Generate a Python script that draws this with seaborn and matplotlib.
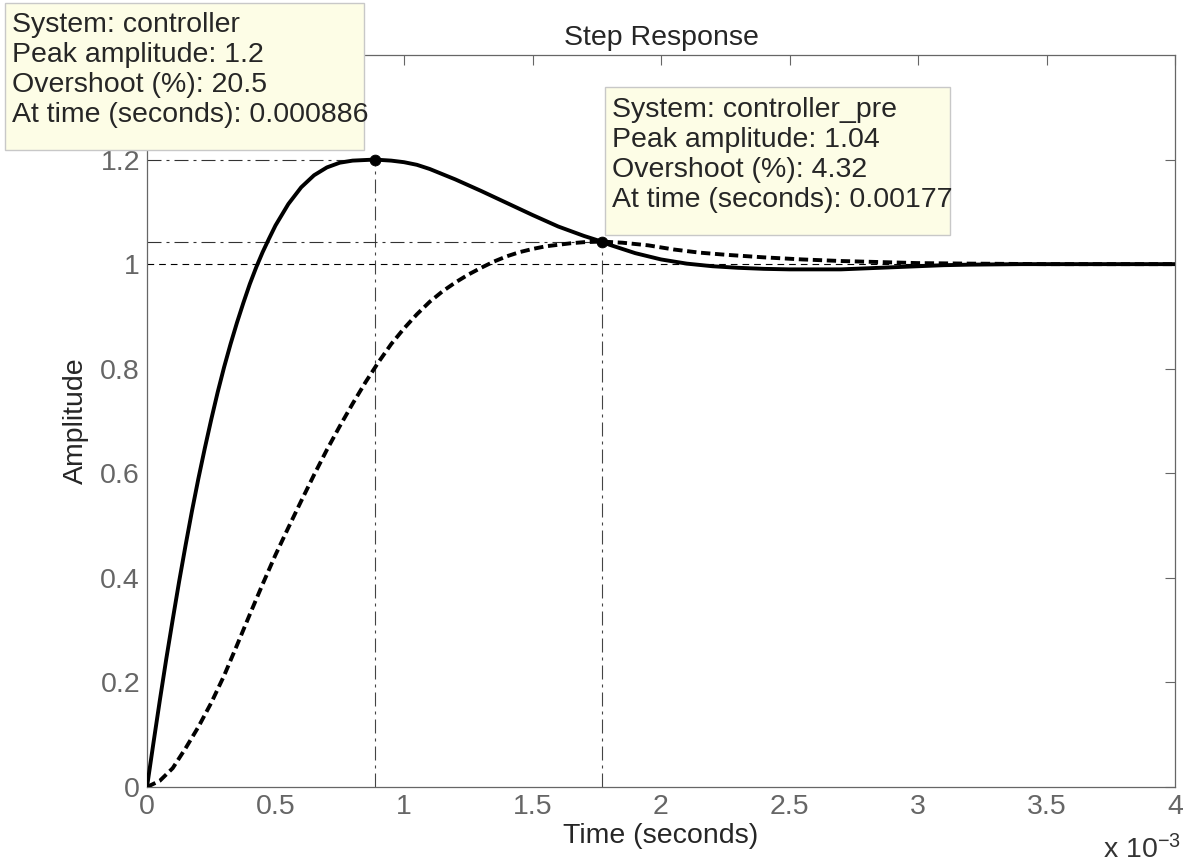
import numpy as np
import matplotlib
matplotlib.use("Agg")
import matplotlib.pyplot as plt
from matplotlib.patches import Rectangle
from matplotlib.ticker import FuncFormatter, MultipleLocator
import seaborn as sns

# --- data (time in ms, amplitude) ---
t_ctrl_ms = [0.000, 0.025, 0.050, 0.075, 0.100, 0.125, 0.150, 0.175, 0.200, 0.225,
             0.250, 0.275, 0.300, 0.325, 0.350, 0.375, 0.400, 0.425, 0.450, 0.475,
             0.500, 0.550, 0.600, 0.650, 0.700, 0.750, 0.800, 0.886, 0.950, 1.000,
             1.050, 1.100, 1.200, 1.300, 1.400, 1.500, 1.600, 1.700, 1.770, 1.800,
             1.900, 2.000, 2.100, 2.200, 2.300, 2.400, 2.500, 2.600, 2.700, 2.800,
             2.900, 3.000, 3.100, 3.200, 3.400, 4.000]
y_ctrl = [0.000, 0.084, 0.166, 0.245, 0.320, 0.393, 0.462, 0.528, 0.590, 0.648,
          0.703, 0.755, 0.803, 0.847, 0.888, 0.926, 0.962, 0.994, 1.023, 1.049,
          1.074, 1.115, 1.147, 1.170, 1.185, 1.194, 1.198, 1.200, 1.198, 1.195,
          1.190, 1.182, 1.162, 1.140, 1.117, 1.094, 1.072, 1.054, 1.043, 1.037,
          1.021, 1.009, 1.001, 0.996, 0.993, 0.991, 0.990, 0.990, 0.990, 0.992,
          0.994, 0.996, 0.998, 0.999, 1.000, 1.000]

t_pre_ms = [0.000, 0.050, 0.100, 0.150, 0.200, 0.250, 0.300, 0.350, 0.400, 0.450,
            0.500, 0.550, 0.600, 0.650, 0.700, 0.750, 0.800, 0.850, 0.900, 0.950,
            1.000, 1.050, 1.100, 1.150, 1.200, 1.250, 1.300, 1.350, 1.400, 1.450,
            1.500, 1.550, 1.600, 1.650, 1.700, 1.770, 1.850, 1.950, 2.050, 2.150,
            2.250, 2.400, 2.550, 2.700, 2.850, 3.000, 3.200, 3.500, 4.000]
y_pre = [0.000, 0.012, 0.036, 0.074, 0.115, 0.161, 0.213, 0.271, 0.330, 0.388,
         0.444, 0.496, 0.547, 0.597, 0.645, 0.690, 0.733, 0.774, 0.812, 0.847,
         0.877, 0.904, 0.928, 0.948, 0.965, 0.980, 0.993, 1.005, 1.015, 1.023,
         1.029, 1.034, 1.037, 1.040, 1.042, 1.0432, 1.041, 1.036, 1.028, 1.022,
         1.018, 1.013, 1.009, 1.006, 1.004, 1.002, 1.001, 1.000, 1.000]

systems = ["controller", "controller_pre"]
peak_amp = [1.2, 1.0432]
overshoot = [20.5, 4.32]
peak_time = [0.000886, 0.00177]
steady_state = 1.0
y_ticks = [0, 0.2, 0.4, 0.6, 0.8, 1.0, 1.2]

W, H = 1184, 864

sns.set_style("white")
plt.rcParams["font.family"] = ["Liberation Sans", "DejaVu Sans"]
plt.rcParams["mathtext.default"] = "regular"

fig = plt.figure(figsize=(W / 100, H / 100), dpi=100)
ax = fig.add_axes([147 / W, 1 - 787 / H, (1175 - 147) / W, (787 - 55) / H])

t_ctrl = np.array(t_ctrl_ms) * 1e-3
t_pre = np.array(t_pre_ms) * 1e-3

# steady state + peak guide lines
ax.axhline(steady_state, color="k", lw=0.8, linestyle=(0, (6, 4.5)), zorder=1)
dashdot = (0, (12.6, 4.5, 2.7, 4.5))
for tp, yp in zip(peak_time, peak_amp):
    ax.hlines(yp, 0, tp, color="#333333", lw=0.8, linestyle=dashdot, zorder=1)
    ax.vlines(tp, 0, yp, color="#444444", lw=0.8, linestyle=dashdot, zorder=1)

sns.lineplot(x=t_ctrl, y=y_ctrl, ax=ax, color="k", lw=2.8, zorder=3)
sns.lineplot(x=t_pre, y=y_pre, ax=ax, color="k", lw=2.8,
             linestyle=(0, (2.4, 1.2)), zorder=3)
sns.scatterplot(x=peak_time, y=peak_amp, ax=ax, color="k", s=60,
                edgecolor="k", zorder=4)

ax.set_xlim(0, 0.004)
ax.set_ylim(0, 1.4)
ax.xaxis.set_major_locator(MultipleLocator(0.0005))
ax.set_yticks(y_ticks)
ax.xaxis.set_major_formatter(FuncFormatter(lambda v, p: f"{v * 1e3:g}"))
ax.yaxis.set_major_formatter(FuncFormatter(lambda v, p: f"{v:g}"))
ax.tick_params(direction="in", top=True, right=True, length=7, width=0.8,
               color="#666666", labelcolor="#666666", labelsize=20.5, pad=5)
for s in ax.spines.values():
    s.set_color("#666666")
    s.set_linewidth(0.9)

ax.set_title("Step Response", fontsize=20.5, pad=7)
ax.set_xlabel("Time (seconds)", fontsize=20.5, labelpad=2)
ax.set_ylabel("Amplitude", fontsize=20.5, labelpad=8)

fig.text(1103 / W, 1 - 858 / H, r"x 10$^{-3}$", fontsize=20.5, color="#333333",
         va="baseline", ha="left")

# datatip boxes (figure pixel positions)
boxes = [(5, 3, 359, 147, 12, 12), (605, 87, 345, 148, 612, 97)]
for i, (bx, by, bw, bh, tx, ty) in enumerate(boxes):
    fig.add_artist(Rectangle((bx / W, 1 - (by + bh) / H), bw / W, bh / H,
                             transform=fig.transFigure, facecolor="#fdfde6",
                             edgecolor="#c8c8c8", lw=1, zorder=5))
    txt = (f"System: {systems[i]}\n"
           f"Peak amplitude: {peak_amp[i]:.3g}\n"
           f"Overshoot (%): {overshoot[i]:.3g}\n"
           f"At time (seconds): {peak_time[i]:.3g}")
    fig.text(tx / W, 1 - ty / H, txt, fontsize=20.5, va="top", ha="left",
             linespacing=1.2, zorder=6)

fig.savefig("out.png", dpi=100)
